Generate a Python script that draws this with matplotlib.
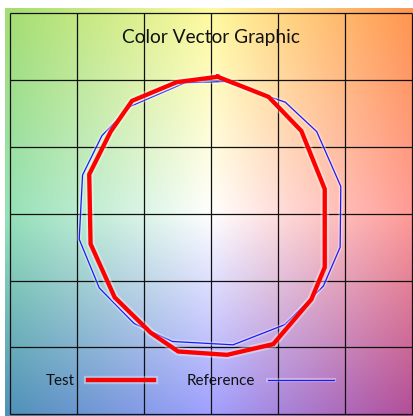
import numpy as np
import matplotlib
matplotlib.use("Agg")
import matplotlib.pyplot as plt
import matplotlib.patheffects as pe

# ---- data (grid units, one cell = 1) ----
title = "Color Vector Graphic"
series_names = ["Test", "Reference"]
test_x = [0.10, 0.86, 1.35, 1.70, 1.70, 1.50, 0.93, 0.24, -0.49, -0.90, -1.44, -1.80, -1.82, -1.50, -1.18, -0.51]
test_y = [2.05, 1.75, 1.24, 0.37, -0.80, -1.28, -1.95, -2.11, -2.06, -1.78, -1.25, -0.45, 0.59, 1.23, 1.69, 1.97]
ref_x = [0.21, 1.11, 1.58, 1.94, 1.93, 1.68, 1.10, 0.33, -0.58, -1.15, -1.67, -1.97, -1.92, -1.63, -1.20, -0.39]
ref_y = [1.98, 1.67, 1.23, 0.41, -0.50, -1.08, -1.66, -1.96, -1.91, -1.64, -1.11, -0.38, 0.58, 1.17, 1.61, 1.96]
grid_ticks = [-3, -2, -1, 0, 1, 2, 3]

# background colour anchors (3x3: rows top->bottom, cols left->right)
bg_colors = np.array([
    [[165, 222, 115], [255, 250, 160], [255, 150, 80]],
    [[150, 225, 185], [255, 255, 255], [255, 155, 150]],
    [[80, 145, 185], [160, 160, 255], [178, 78, 152]],
], dtype=float) / 255.0

W, H = 413, 416
fig = plt.figure(figsize=(W / 100, H / 100), dpi=100)
ax = fig.add_axes([5 / W, 0 / H, 408 / W, 408 / H])
x0, x1 = -3.079, 3.019
y0, y1 = -3.025, 3.079
ax.set_xlim(x0, x1)
ax.set_ylim(y0, y1)
ax.axis("off")

# background gradient (bilinear over 3x3 anchors)
n = 400
xs = np.linspace(x0, x1, n)
ys = np.linspace(y1, y0, n)
X, Y = np.meshgrid(xs, ys)
u = np.clip((X + 3) / 3.0, 0, 2)  # 0..2 columns
v = np.clip((3 - Y) / 3.0, 0, 2)  # 0..2 rows
i0 = np.clip(np.floor(v).astype(int), 0, 1)
j0 = np.clip(np.floor(u).astype(int), 0, 1)
fv = (v - i0)[..., None]
fu = (u - j0)[..., None]
c00 = bg_colors[i0, j0]
c01 = bg_colors[i0, j0 + 1]
c10 = bg_colors[i0 + 1, j0]
c11 = bg_colors[i0 + 1, j0 + 1]
img = (c00 * (1 - fu) * (1 - fv) + c01 * fu * (1 - fv)
       + c10 * (1 - fu) * fv + c11 * fu * fv)
ax.imshow(img, extent=[x0, x1, y0, y1], aspect="auto", zorder=0, interpolation="bilinear")

# grid
for t in grid_ticks:
    ax.plot([t, t], [-3, 3], color="#111111", lw=0.9, zorder=1, solid_capstyle="butt")
    ax.plot([-3, 3], [t, t], color="#111111", lw=0.9, zorder=1, solid_capstyle="butt")

# polygons
tx = test_x + test_x[:1]
ty = test_y + test_y[:1]
rx = ref_x + ref_x[:1]
ry = ref_y + ref_y[:1]
ax.plot(rx, ry, color="#1a1aff", lw=0.9, zorder=3, label=series_names[1],
        path_effects=[pe.withStroke(linewidth=3, foreground="white", alpha=0.35)])
ax.plot(tx, ty, color="#ff0000", lw=3.1, zorder=4, label=series_names[0],
        solid_joinstyle="miter",
        path_effects=[pe.withStroke(linewidth=6, foreground="white", alpha=0.35)])

ax.text(0, 2.635, title, ha="center", va="center", fontsize=13.8,
        family="Lato", color="#111111", zorder=5)

handles, labels = ax.get_legend_handles_labels()
order = [1, 0]
leg = ax.legend([handles[i] for i in order], [labels[i] for i in order],
                loc="center", bbox_to_anchor=(0.453, 0.086), ncol=2,
                frameon=False, markerfirst=False, handlelength=4.3,
                handletextpad=0.9, columnspacing=2.1,
                prop={"family": "Lato", "size": 11})
for t in leg.get_texts():
    t.set_color("#111111")

fig.savefig("out.png", dpi=100)
